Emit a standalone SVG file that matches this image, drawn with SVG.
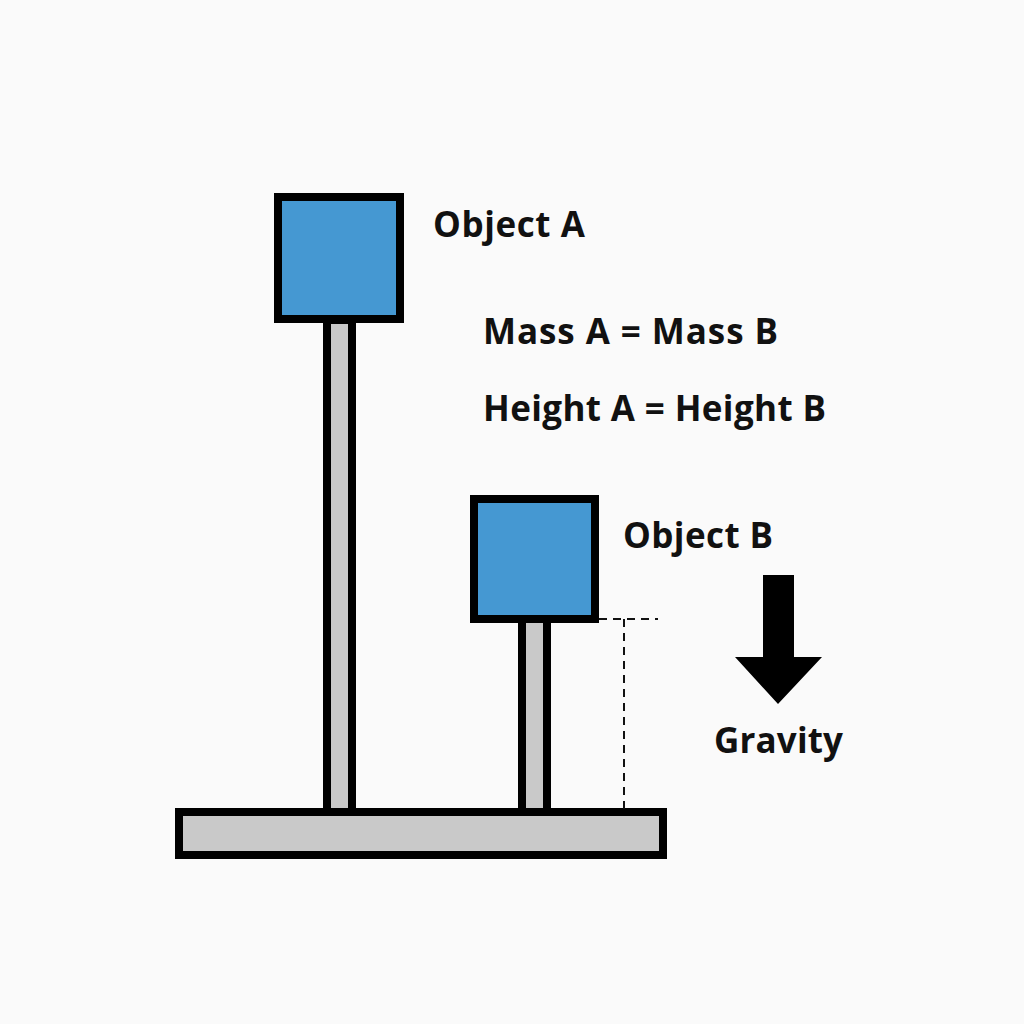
<svg xmlns="http://www.w3.org/2000/svg" width="1024" height="1024" viewBox="0 0 1024 1024">
<style>
.blk{fill:#4598d2;stroke:#000;stroke-width:8}
.gray{fill:#c9c9c9;stroke:#000;stroke-width:8}
.lbl{font-family:"Open Sans","Liberation Sans",sans-serif;font-weight:bold;font-size:35px;fill:#111}
.dash{fill:none;stroke:#111;stroke-width:2;stroke-dasharray:8 6}
</style>
<rect width="1024" height="1024" fill="#fafafa"/>
<g id="base"><rect class="gray" x="179" y="812" width="484" height="43"/></g>
<g id="poleA"><rect class="gray" x="327" y="320" width="25" height="492"/></g>
<g id="poleB"><rect class="gray" x="522" y="615" width="25" height="197"/></g>
<g id="objectA"><rect class="blk" x="278" y="197" width="122" height="122"/><text class="lbl" x="433" y="237" textLength="152" lengthAdjust="spacing">Object A</text></g>
<g id="objectB"><rect class="blk" x="474" y="499" width="121" height="120"/><text class="lbl" x="623" y="548" textLength="150" lengthAdjust="spacing">Object B</text></g>
<g id="equations"><text class="lbl" x="483" y="344" textLength="295" lengthAdjust="spacing">Mass A = Mass B</text><text class="lbl" x="483" y="421" textLength="343" lengthAdjust="spacing">Height A = Height B</text></g>
<g id="connectors"><path class="dash" d="M599 619H658M624 619V810"/></g>
<g id="gravity"><polygon fill="#000" points="763,575 794,575 794,657 822,657 778,704 735,657 763,657"/><text class="lbl" x="714" y="753" textLength="129" lengthAdjust="spacing">Gravity</text></g>
</svg>
